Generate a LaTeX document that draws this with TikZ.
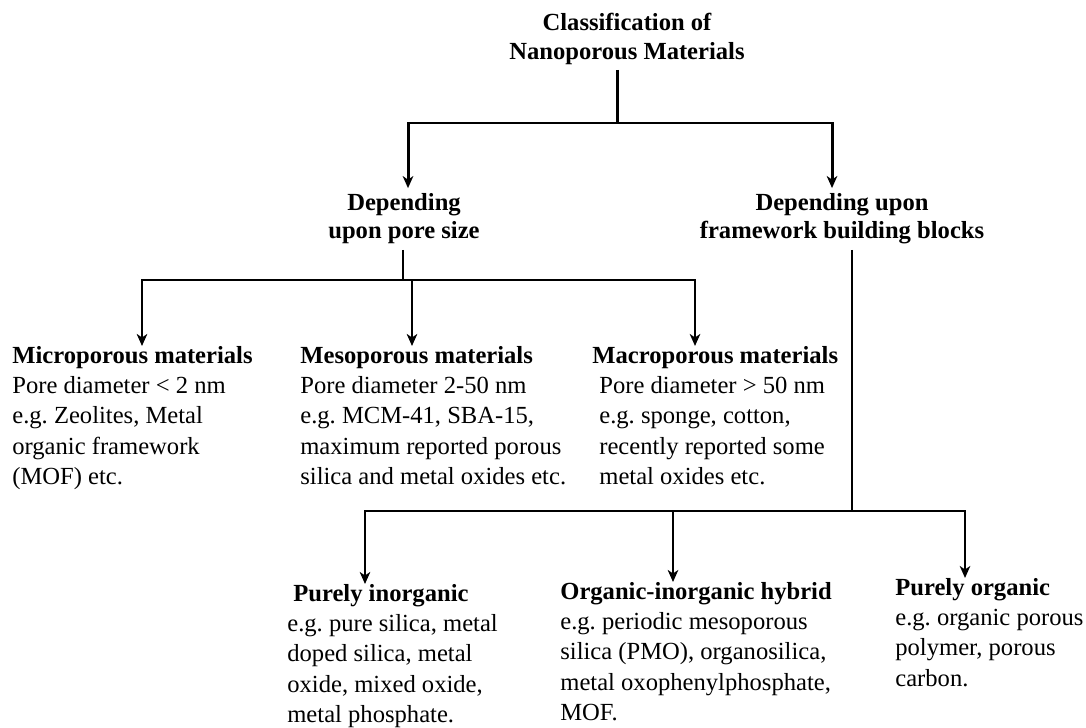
\documentclass[tikz,border=0pt]{standalone}
\usepackage{fontspec}
\setmainfont{Liberation Serif}
\usetikzlibrary{arrows.meta,positioning}

\begin{document}
\begin{tikzpicture}[
    head/.style={align=center,font=\fontsize{14}{16}\selectfont\bfseries,inner sep=3pt},
    leaf/.style={align=left,anchor=north west,font=\fontsize{14}{17.2}\selectfont,inner sep=0pt},
    line/.style={line width=1.3pt},
    arr/.style={-{Stealth[length=2.4mm,width=2.1mm,inset=0.7mm]},line width=1.3pt},
    heavy/.style={line width=1.7pt}
]
\useasboundingbox (0,0) rectangle (21.72,-14.56);
% heads
\node[head] (title) at (12.54,-0.78) {Classification of\\Nanoporous Materials};
\node[head] (pore) at (8.08,-4.38) {Depending\\upon pore size};
\node[head] (frame) at (16.84,-4.38) {Depending upon\\framework building blocks};
% pore size classes
\node[leaf] (micro) at (0.24,-6.92) {\textbf{Microporous materials}\\Pore diameter < 2 nm\\e.g.\ Zeolites, Metal\\organic framework\\(MOF) etc.};
\node[leaf] (meso) at (6.0,-6.92) {\textbf{Mesoporous materials}\\Pore diameter 2-50 nm\\e.g.\ MCM-41, SBA-15,\\maximum reported porous\\silica and metal oxides etc.};
\node[leaf] (macro) at (11.84,-6.92) {\textbf{Macroporous materials}\\\hspace{0.14cm}Pore diameter > 50 nm\\\hspace{0.14cm}e.g.\ sponge, cotton,\\\hspace{0.14cm}recently reported some\\\hspace{0.14cm}metal oxides etc.};
% framework classes
\node[leaf] (inorg) at (5.74,-11.68) {\hspace{0.12cm}\textbf{Purely inorganic}\\e.g.\ pure silica, metal\\doped silica, metal\\oxide, mixed oxide,\\metal phosphate.};
\node[leaf] (hybrid) at (11.2,-11.64) {\textbf{Organic-inorganic hybrid}\\e.g.\ periodic mesoporous\\silica (PMO), organosilica,\\metal oxophenylphosphate,\\MOF.};
\node[leaf] (organic) at (17.9,-11.56) {\textbf{Purely organic}\\e.g.\ organic porous\\polymer, porous\\carbon.};
% connectors
\coordinate (split1) at (12.34,-2.46);
\draw[line,heavy] (title.south -| split1) -- (split1);
\draw[arr,heavy] (split1) -| ([xshift=0.08cm]pore.north);
\draw[arr,heavy] (split1) -| ([xshift=-0.2cm]frame.north);
\coordinate (split2) at (8.06,-5.6);
\draw[line] (pore.south -| split2) -- (split2);
\draw[arr] (split2) -| ([xshift=2.6cm]micro.north west);
\draw[arr] (split2) -| ([xshift=2.24cm]meso.north west);
\draw[arr] (split2) -| ([xshift=2.06cm]macro.north west);
\coordinate (split3) at (17.04,-10.22);
\draw[line] (frame.south -| split3) -- (split3);
\draw[arr] (split3) -| ([xshift=1.56cm]inorg.north west);
\draw[arr] (split3) -| ([xshift=2.26cm]hybrid.north west);
\draw[arr] (split3) -| ([xshift=1.4cm]organic.north west);
\end{tikzpicture}
\end{document}
